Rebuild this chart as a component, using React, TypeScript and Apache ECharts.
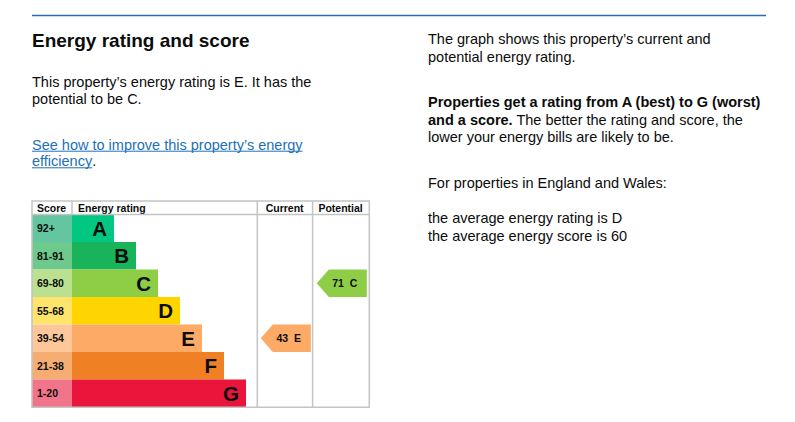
import React, { useEffect, useRef } from 'react';
import * as echarts from 'echarts';

// ---- data ----
const ratings = ['A', 'B', 'C', 'D', 'E', 'F', 'G'];
const scoreBands = ['92+', '81-91', '69-80', '55-68', '39-54', '21-38', '1-20'];
const barLengths = [42, 64, 86, 108, 130, 152, 174];
const bandColours = ['#00c781', '#19b459', '#8dce46', '#ffd500', '#fcaa65', '#ef8023', '#e9153b'];
const scoreColours = ['#64c6a0', '#6dca8c', '#bbe08f', '#ffe46c', '#fec79a', '#f5ad72', '#f2748b'];
const columns = ['Current', 'Potential'];
const pointers = [
  ['Current', 'E', 43],
  ['Potential', 'C', 71],
];
const currentRating = 'E';
const potentialRating = 'C';
const averageRating = 'D';
const averageScore = 60;

const FONT = '"Liberation Sans", Arial, Helvetica, sans-serif';
const INK = '#0b0c0c';
const LINK = '#1d70b8';
const GRIDLINE = '#c4c4c4';

function measure(text: string, size: number, weight = 'normal') {
  const c = document.createElement('canvas').getContext('2d');
  if (!c) return text.length * size * 0.5;
  c.font = `${weight} ${size}px ${FONT}`;
  return c.measureText(text).width;
}

export default function App() {
  const ref = useRef<HTMLDivElement>(null);
  useEffect(() => {
    if (!ref.current) return;
    const chart = echarts.init(ref.current, undefined, { renderer: 'svg' });

    const tableTop = 214.5;
    const tableH = 192.5;
    const bodySize = 14.5;

    const txt = (text: string, x: number, y: number, opts: any = {}) => ({
      type: 'text',
      x,
      y,
      silent: true,
      style: {
        text,
        fontFamily: FONT,
        fontSize: opts.fontSize ?? bodySize,
        fontWeight: opts.fontWeight ?? 'normal',
        fill: opts.fill ?? INK,
        align: opts.align ?? 'left',
        verticalAlign: 'middle',
        rich: opts.rich,
      },
    });
    const line = (x1: number, y1: number, x2: number, y2: number, color: string, w: number) => ({
      type: 'line',
      silent: true,
      z: 10,
      shape: { x1, y1, x2, y2 },
      style: { stroke: color, lineWidth: w },
    });

    const link1 = "See how to improve this property\u2019s energy";
    const link2 = 'efficiency';
    const w1 = measure(link1, bodySize);
    const w2 = measure(link2, bodySize);

    const graphics: any[] = [
      line(32, 15.5, 766, 15.5, '#2a6cb3', 1.4),
      txt('Energy rating and score', 32, 40.4, { fontSize: 19, fontWeight: 'bold' }),
      txt(`This property\u2019s energy rating is ${currentRating}. It has the`, 32, 82, {}),
      txt(`potential to be ${potentialRating}.`, 32, 99, {}),
      txt(link1, 32, 144.6, { fill: LINK }),
      line(32, 151.2, 32 + w1, 151.2, LINK, 1),
      txt(link2, 32, 161.4, { fill: LINK }),
      line(32, 167.8, 32 + w2, 167.8, LINK, 1),
      txt('.', 32 + w2, 161.4, {}),
      txt('The graph shows this property\u2019s current and', 428, 39.2, {}),
      txt('potential energy rating.', 428, 56.5, {}),
      txt('Properties get a rating from A (best) to G (worst)', 428, 102.2, { fontWeight: 'bold' }),
      txt('{b|and a score.} The better the rating and score, the', 428, 119.5, {
        rich: { b: { fontWeight: 'bold', fontFamily: FONT, fontSize: bodySize, fill: INK } },
      }),
      txt('lower your energy bills are likely to be.', 428, 136.8, {}),
      txt('For properties in England and Wales:', 428, 183.2, {}),
      txt(`the average energy rating is ${averageRating}`, 428, 218.2, {}),
      txt(`the average energy score is ${averageScore}`, 428, 235.6, {}),
      // table header
      txt('Score', 37, 208, { fontSize: 10.5, fontWeight: 'bold' }),
      txt('Energy rating', 78, 208, { fontSize: 10.5, fontWeight: 'bold' }),
      txt(columns[0], 284.6, 208, { fontSize: 10.5, fontWeight: 'bold', align: 'center' }),
      txt(columns[1], 340.6, 208, { fontSize: 10.5, fontWeight: 'bold', align: 'center' }),
      // table frame
      {
        type: 'rect',
        silent: true,
        z: 10,
        shape: { x: 32, y: 201, width: 337.3, height: 206.3 },
        style: { fill: 'none', stroke: GRIDLINE, lineWidth: 1.5 },
      },
      line(32, tableTop, 369.3, tableTop, GRIDLINE, 1.5),
      line(72, 201, 72, tableTop, GRIDLINE, 1.5),
      line(257.3, 201, 257.3, 407.3, GRIDLINE, 1.5),
      line(312.6, 201, 312.6, 407.3, GRIDLINE, 1.5),
    ];

    const catY = (idx: number) => ({
      type: 'category',
      gridIndex: idx,
      data: idx === 0 ? scoreBands : ratings,
      inverse: true,
      show: false,
    });

    chart.setOption({
      animation: false,
      textStyle: { fontFamily: FONT },
      grid: [
        { left: 32, top: tableTop, width: 40, height: tableH },
        { left: 72, top: tableTop, width: 185.3, height: tableH },
        { left: 257.3, top: tableTop, width: 112, height: tableH },
      ],
      xAxis: [
        { type: 'value', gridIndex: 0, min: 0, max: 1, show: false },
        { type: 'value', gridIndex: 1, min: 0, max: 185.3, show: false },
        { type: 'category', gridIndex: 2, data: columns, show: false },
      ],
      yAxis: [catY(0), catY(1), catY(2)],
      series: [
        {
          type: 'bar',
          xAxisIndex: 0,
          yAxisIndex: 0,
          barCategoryGap: 0,
          silent: true,
          data: scoreBands.map((b, i) => ({ value: 1, name: b, itemStyle: { color: scoreColours[i] } })),
          label: {
            show: true,
            position: 'insideLeft',
            distance: 5,
            formatter: (p: any) => scoreBands[p.dataIndex],
            fontFamily: FONT,
            fontSize: 10.5,
            fontWeight: 'bold',
            color: INK,
          },
        },
        {
          type: 'bar',
          xAxisIndex: 1,
          yAxisIndex: 1,
          barCategoryGap: 0,
          silent: true,
          data: barLengths.map((v, i) => ({ value: v, itemStyle: { color: bandColours[i] } })),
          label: {
            show: true,
            position: 'insideRight',
            distance: 7,
            formatter: (p: any) => ratings[p.dataIndex],
            fontFamily: FONT,
            fontSize: 20.5,
            fontWeight: 'bold',
            color: INK,
          },
        },
        {
          type: 'custom',
          xAxisIndex: 2,
          yAxisIndex: 2,
          silent: true,
          data: pointers,
          encode: { x: 0, y: 1 },
          renderItem: (params: any, api: any) => {
            const c = api.coord([api.value(0), api.value(1)]);
            const s = api.size([1, 1]);
            const rIdx = api.value(1);
            const w = 50;
            const tip = 12;
            const x0 = c[0] - w / 2 + 0.5;
            const x1 = x0 + w;
            const y0 = c[1] - s[1] / 2;
            const y1 = c[1] + s[1] / 2;
            return {
              type: 'group',
              children: [
                {
                  type: 'polygon',
                  shape: { points: [[x0, c[1]], [x0 + tip, y0], [x1, y0], [x1, y1], [x0 + tip, y1]] },
                  style: { fill: bandColours[rIdx] },
                },
                {
                  type: 'text',
                  x: c[0] + 3.5,
                  y: c[1],
                  style: {
                    text: `${api.value(2)}\u00a0\u00a0${ratings[rIdx]}`,
                    fontFamily: FONT,
                    fontSize: 10.5,
                    fontWeight: 'bold',
                    fill: INK,
                    align: 'center',
                    verticalAlign: 'middle',
                  },
                },
              ],
            };
          },
        },
      ],
      graphic: graphics,
    });

    return () => chart.dispose();
  }, []);

  return (
    <div
      ref={ref}
      style={{ position: 'absolute', left: 0, top: 0, width: 795, height: 422, background: '#fff' }}
    />
  );
}
